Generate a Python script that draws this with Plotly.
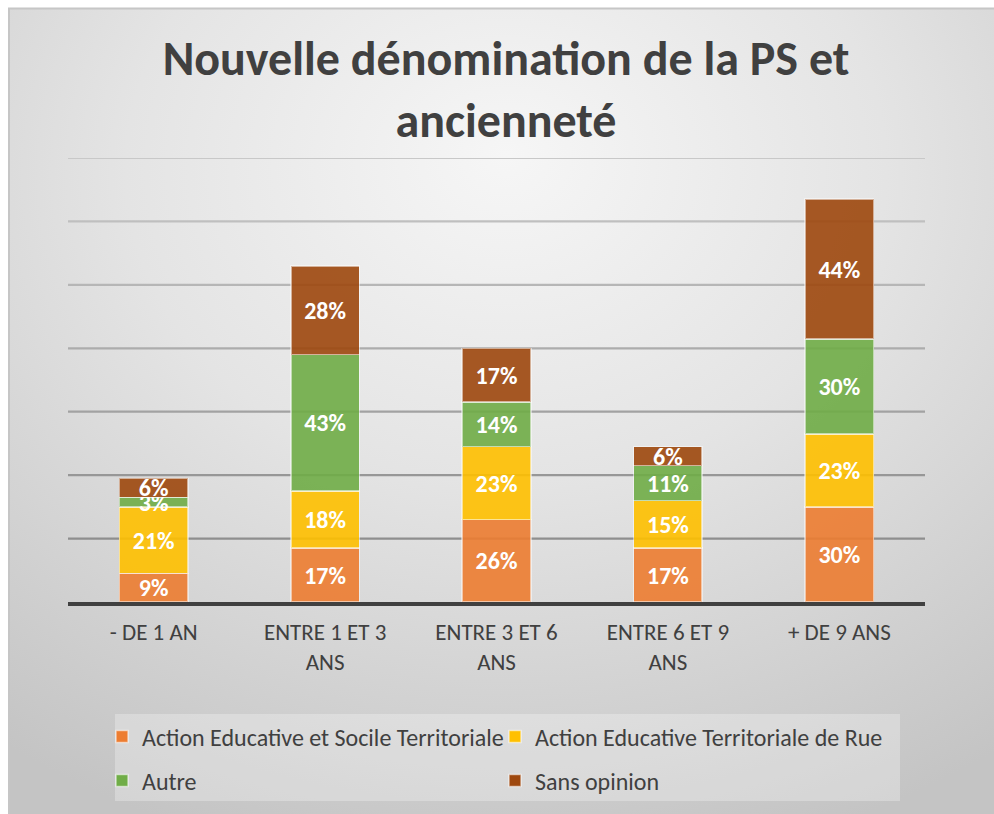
import base64
import plotly.graph_objects as go

# Seniority groups (x axis) and the share of each proposed name, in %
categories = ["- DE 1 AN", "ENTRE 1 ET 3<br>ANS", "ENTRE 3 ET 6<br>ANS",
              "ENTRE 6 ET 9<br>ANS", "+ DE 9 ANS"]
series_names = ["Action Educative et Socile Territoriale",
                "Action Educative Territoriale de Rue",
                "Autre", "Sans opinion"]
aest_values = [9, 17, 26, 17, 30]
aetr_values = [21, 18, 23, 15, 23]
autre_values = [3, 43, 14, 11, 30]
sans_opinion_values = [6, 28, 17, 6, 44]
series_values = [aest_values, aetr_values, autre_values, sans_opinion_values]
series_colors = ["#ED7D31", "#FFC000", "#70AD47", "#9E480E"]
gridline_values = [20, 40, 60, 80, 100, 120, 140]

W, H = 994, 814
ML, MR, MT, MB = 68, 69, 158, 212
PW, PH = W - ML - MR, H - MT - MB

FONT = "Carlito, Lato, sans-serif"
TXT = "#404040"

# Chart-area backdrop: soft radial grey gradient framed by a thin border,
# plus the lighter panel behind the legend
svg = f"""<svg xmlns='http://www.w3.org/2000/svg' width='{W}' height='{H}' viewBox='0 0 {W} {H}'>
<defs><radialGradient id='g' cx='50%' cy='22%' r='85%' fx='50%' fy='18%'>
<stop offset='0' stop-color='#f6f6f6'/><stop offset='0.45' stop-color='#e4e4e4'/>
<stop offset='1' stop-color='#c4c4c4'/></radialGradient></defs>
<rect x='0' y='0' width='{W}' height='{H}' fill='#ffffff'/>
<rect x='9' y='8.5' width='{W}' height='{H}' fill='url(#g)' stroke='#c6c6c6' stroke-width='2'/>
<rect x='115' y='714' width='785' height='87' fill='#ffffff' fill-opacity='0.28'/>
</svg>"""
svg_uri = "data:image/svg+xml;base64," + base64.b64encode(svg.encode()).decode()

# Legend slots (column text start, row centre) in figure pixels
legend_ids = ["legend", "legend2", "legend3", "legend4"]
legend_slots = [(102, 737), (495, 737), (102, 781), (495, 781)]

fig = go.Figure()
for name, vals, col, lid in zip(series_names, series_values, series_colors, legend_ids):
    fig.add_trace(go.Bar(
        x=categories, y=vals, name=name,
        marker=dict(color=col, opacity=0.9,
                    line=dict(color="rgba(255,255,255,0.55)", width=1.5)),
        text=[f"{v}%" for v in vals], textposition="inside", textangle=0,
        insidetextanchor="middle", constraintext="none",
        textfont=dict(family=FONT, size=24, color="white", weight="bold"),
        legend=lid,
    ))

# Horizontal gridlines, darker towards the bottom of the plot
grid_cols = ["#8e8e8e", "#979797", "#a2a2a2", "#acacac", "#b6b6b6", "#bfbfbf", "#c8c8c8"]
for gv, gc in zip(gridline_values, grid_cols):
    fig.add_shape(type="line", xref="paper", yref="y", x0=0, x1=1, y0=gv, y1=gv,
                  line=dict(color=gc, width=2.2), layer="below")

fig.add_layout_image(dict(source=svg_uri, xref="paper", yref="paper",
                          x=-ML / PW, y=1 + MT / PH, sizex=W / PW, sizey=H / PH,
                          xanchor="left", yanchor="top", sizing="stretch",
                          layer="below"))

legend_layouts = {}
for lid, (lx, ly) in zip(legend_ids, legend_slots):
    legend_layouts[lid] = dict(
        orientation="h", bgcolor="rgba(0,0,0,0)",
        xref="container", yref="container",
        x=lx / W, y=1 - ly / H, xanchor="left", yanchor="middle",
        font=dict(family=FONT, size=24, color=TXT),
        itemclick=False, itemdoubleclick=False)

fig.update_layout(
    width=W, height=H,
    margin=dict(l=ML, r=MR, t=MT, b=MB, pad=0, autoexpand=False),
    paper_bgcolor="rgba(0,0,0,0)", plot_bgcolor="rgba(0,0,0,0)",
    barmode="stack", bargap=0.6,
    showlegend=True,
    title=dict(text="Nouvelle dénomination de la PS et<br>ancienneté",
               xref="container", yref="container",
               x=506 / W, xanchor="center", y=1 - 75 / H, yanchor="middle",
               font=dict(family=FONT, size=48, color=TXT, weight="bold")),
    xaxis=dict(showline=True, linecolor="#404040", linewidth=3.5, ticks="",
               tickfont=dict(family=FONT, size=23, color=TXT),
               ticklabelstandoff=7, showgrid=False, fixedrange=True),
    yaxis=dict(range=[0, 140], showgrid=False, zeroline=False,
               showticklabels=False, ticks="", fixedrange=True),
    **legend_layouts,
)

fig.write_html("out.html")
